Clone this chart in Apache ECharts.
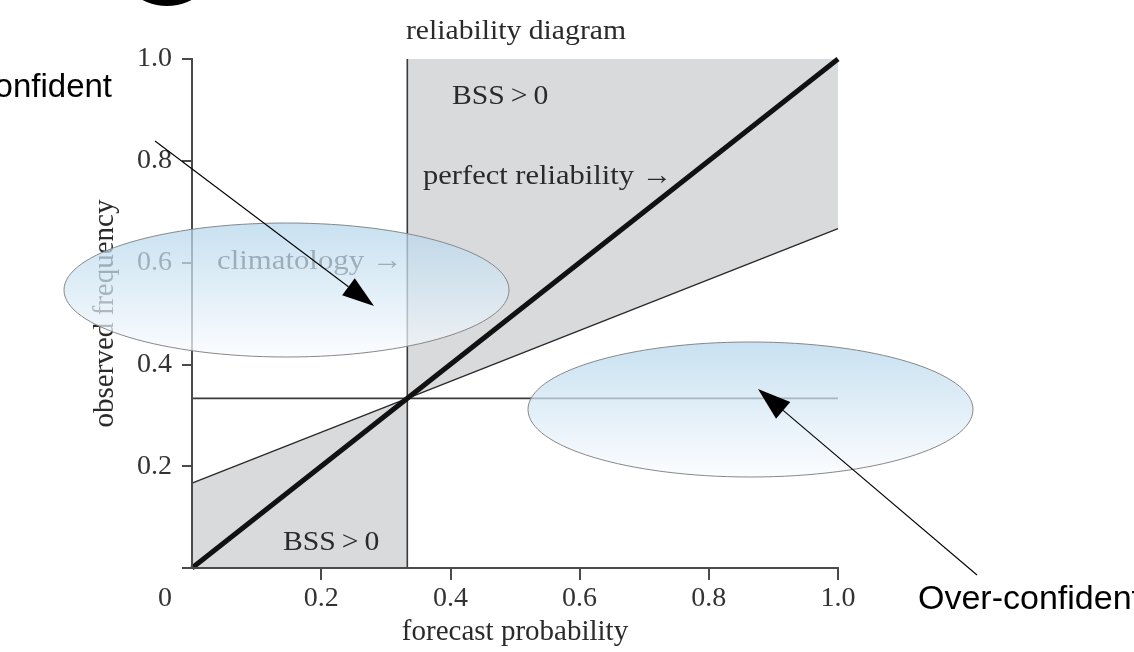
<!DOCTYPE html>
<html><head><meta charset="utf-8">
<script src="https://cdn.jsdelivr.net/npm/echarts@6/dist/echarts.min.js"></script>
<style>html,body{margin:0;padding:0;background:#fff}#c{width:1134px;height:652px}</style>
</head><body><div id="c"></div>
<script>
// ---- data ----
const perfectLine    = [[0, 0], [1, 1]];
const noSkillLow     = [[0, 0.1667], [0.3333, 0.3333]];
const noSkillHigh    = [[0.3333, 0.3333], [1, 0.6667]];
const climHorizontal = [[0, 0.3333], [1, 0.3333]];
const climVertical   = [[0.3333, 0], [0.3333, 1]];
const xTickValues  = [0.2, 0.4, 0.6, 0.8, 1.0];
const xLabelValues = [0, 0.2, 0.4, 0.6, 0.8, 1.0];
const yTickValues  = [0, 0.2, 0.4, 0.6, 0.8, 1.0];
const yLabelValues = [0.2, 0.4, 0.6, 0.8, 1.0];

const SERIF = '"Liberation Serif", "Times New Roman", serif';
const SANS = '"Liberation Sans", Arial, sans-serif';
const AX = '#4a4a4a';
const SHADE = '#d9dadc';

const chart = echarts.init(document.getElementById('c'));

function fmt(v){ return v === 0 ? '{o|0}' : v.toFixed(1); }

function ellipseFill(){
  return new echarts.graphic.LinearGradient(0, 0, 0, 1, [
    {offset: 0, color: 'rgba(179,213,235,0.72)'},
    {offset: 1, color: 'rgba(250,252,255,0.72)'}
  ]);
}
function arrow(x1, y1, x2, y2, len, wid){
  const dx = x2 - x1, dy = y2 - y1, d = Math.sqrt(dx*dx + dy*dy);
  const ux = dx / d, uy = dy / d;
  const bx = x2 - ux*len, by = y2 - uy*len;
  const px = -uy*wid/2, py = ux*wid/2;
  return [
    {type: 'line', z: 30, shape: {x1: x1, y1: y1, x2: bx, y2: by}, style: {stroke: '#000', lineWidth: 1.1}},
    {type: 'polygon', z: 30, shape: {points: [[x2, y2], [bx + px, by + py], [bx - px, by - py]]}, style: {fill: '#000'}}
  ];
}
function stext(txt, x, y, sx, align){
  return {type: 'text', z: 6, x: x, y: y, scaleX: sx,
    style: {text: txt, font: '28px ' + SERIF, fill: '#2a2a2a',
      textAlign: align || 'left', textVerticalAlign: 'middle'}};
}

const option = {
  animation: false,
  backgroundColor: '#fff',
  grid: {left: 192, top: 59, right: 296, bottom: 84, containLabel: false},
  xAxis: [{
    type: 'value', min: 0, max: 1, interval: 0.2, z: 5,
    name: 'forecast probability', nameLocation: 'middle', nameGap: 49,
    nameTextStyle: {fontFamily: SERIF, fontSize: 29, color: '#2a2a2a'},
    axisLine: {show: true, lineStyle: {color: AX, width: 2}},
    axisTick: {show: true, length: 12, lineStyle: {color: AX, width: 2}, customValues: xTickValues},
    axisLabel: {fontFamily: SERIF, fontSize: 28, color: '#333', margin: 17,
      customValues: xLabelValues, formatter: fmt, rich: {o: {padding: [0, 54, 0, 0]}}},
    splitLine: {show: false}
  }, {
    type: 'value', min: 0, max: 1, position: 'top', z: 5,
    axisLine: {show: true, lineStyle: {color: AX, width: 2}},
    axisTick: {show: false}, axisLabel: {show: false}, splitLine: {show: false}
  }],
  yAxis: [{
    type: 'value', min: 0, max: 1, interval: 0.2, z: 5,
    name: 'observed frequency', nameLocation: 'middle', nameGap: 72, nameRotate: 90,
    nameTextStyle: {fontFamily: SERIF, fontSize: 29, color: '#2a2a2a'},
    axisLine: {show: true, lineStyle: {color: AX, width: 2}},
    axisTick: {show: true, length: 10, lineStyle: {color: AX, width: 2}, customValues: yTickValues},
    axisLabel: {fontFamily: SERIF, fontSize: 28, color: '#333', margin: 20,
      customValues: yLabelValues, formatter: fmt},
    splitLine: {show: false}
  }, {
    type: 'value', min: 0, max: 1, position: 'right', z: 5,
    axisLine: {show: true, lineStyle: {color: AX, width: 2}},
    axisTick: {show: false}, axisLabel: {show: false}, splitLine: {show: false}
  }],
  series: [
    {type: 'line', name: 'no skill (low)', data: noSkillLow, symbol: 'none', z: 2,
      lineStyle: {color: '#2b2b2b', width: 1.5}, areaStyle: {color: SHADE, opacity: 1, origin: 'start'}},
    {type: 'line', name: 'no skill (high)', data: noSkillHigh, symbol: 'none', z: 2,
      lineStyle: {color: '#2b2b2b', width: 1.5}, areaStyle: {color: SHADE, opacity: 1, origin: 'end'}},
    {type: 'line', name: 'climatology', data: climHorizontal, symbol: 'none', z: 3,
      lineStyle: {color: '#3a3a3a', width: 1.6}},
    {type: 'line', name: 'climatology v', data: climVertical, symbol: 'none', z: 3,
      lineStyle: {color: '#3a3a3a', width: 1.6}},
    {type: 'line', name: 'perfect reliability', data: perfectLine, symbol: 'none', z: 4,
      lineStyle: {color: '#111', width: 5}}
  ],
  graphic: [
    stext('reliability diagram', 516, 32, 1.06, 'center'),
    stext('BSS\u2009>\u20090', 452, 97, 1.06),
    stext('perfect reliability \u2192', 423, 177, 1.09),
    stext('climatology \u2192', 217, 262, 1.1),
    stext('BSS\u2009>\u20090', 283, 543, 1.06),
    {type: 'circle', z: 25, shape: {cx: 167, cy: -47, r: 53}, style: {fill: '#000'}},
    {type: 'ellipse', z: 20, shape: {cx: 286.5, cy: 290, rx: 222.5, ry: 67},
      style: {fill: ellipseFill(), stroke: '#888', lineWidth: 1}},
    {type: 'ellipse', z: 20, shape: {cx: 750.5, cy: 409.5, rx: 222.5, ry: 67.5},
      style: {fill: ellipseFill(), stroke: '#888', lineWidth: 1}},
    ...arrow(155, 141, 374, 306, 32, 21),
    ...arrow(977, 575, 758, 389, 33, 22),
    {type: 'text', z: 30, x: 112, y: 88,
      style: {text: 'Under-confident', font: '33px ' + SANS, fill: '#000', textAlign: 'right', textVerticalAlign: 'middle'}},
    {type: 'text', z: 30, x: 918, y: 600,
      style: {text: 'Over-confident', font: '34px ' + SANS, fill: '#000', textAlign: 'left', textVerticalAlign: 'middle'}}
  ]
};
chart.setOption(option);
</script></body></html>
